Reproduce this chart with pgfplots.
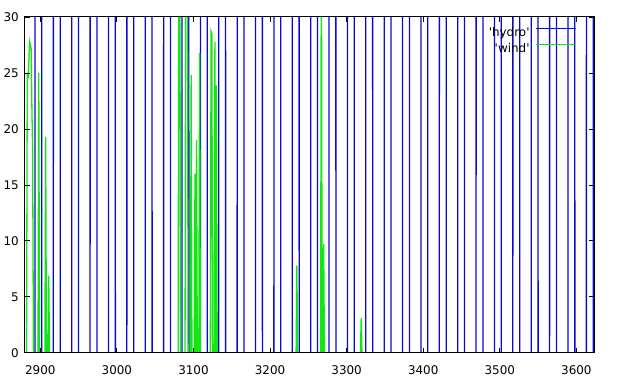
\documentclass[border=0pt]{standalone}
\usepackage{fontspec}
\setmainfont{DejaVu Sans}[Ligatures=TeXOff]
\usepackage{pgfplots}
\pgfplotsset{compat=1.18}
\definecolor{hydroblue}{RGB}{10,10,205}
\definecolor{windgreen}{RGB}{20,230,20}
\begin{document}
\fontsize{12}{14}\selectfont
\begin{tikzpicture}
\useasboundingbox (-25bp,-34bp) rectangle (594.3bp,353bp);
\begin{axis}[
  scale only axis, width=569.3bp, height=336bp,
  axis on top,
  xmin=2880, xmax=3623, ymin=0, ymax=30,
  xtick={2900,3000,...,3600}, ytick={0,5,...,30},
  tick align=inside, tick pos=both, major tick length=5bp,
  tick style={black, line width=0.8bp},
  axis line style={black, line width=1bp},
  /pgf/number format/assume math mode=true,
  /pgf/number format/1000 sep={},
  xticklabel style={yshift=-9bp},
  yticklabel style={xshift=-2bp},
  ticklabel style={font=\fontsize{12}{14}\selectfont},
  legend style={draw=none, fill=none, at={(rel axis cs:1,1)}, anchor=north east,
    xshift=-17bp, yshift=-10bp, inner sep=0pt, row sep=5bp, column sep=6bp,
    nodes={inner sep=0pt}, font=\fontsize{12}{14}\selectfont},
  legend plot pos=right,
  legend cell align=right,
  legend image code/.code={\draw[#1] (0bp,4bp) -- (40bp,4bp);},
]
\addplot[hydroblue, line width=1.3bp] coordinates {
(2880,0)
(2893,0)(2894,500)(2901,500)(2902,0)
(2917,0)(2918,500)(2925,500)(2926,0)
(2941,0)(2942,500)(2949,500)(2950,0)
(2965,0)(2966,500)(2973,500)(2974,0)
(2989,0)(2990,500)(2997,500)(2998,0)
(3013,0)(3014,500)(3021,500)(3022,0)
(3037,0)(3038,500)(3045,500)(3046,0)
(3061,0)(3062,500)(3069,500)(3070,0)
(3085,0)(3086,500)(3093,500)(3094,0)
(3109,0)(3110,500)(3117,500)(3118,0)
(3133,0)(3134,500)(3141,500)(3142,0)
(3157,0)(3158,500)(3165,500)(3166,0)
(3181,0)(3182,500)(3189,500)(3190,0)
(3205,0)(3206,500)(3213,500)(3214,0)
(3229,0)(3230,500)(3237,500)(3238,0)
(3253,0)(3254,500)(3261,500)(3262,0)
(3277,0)(3278,500)(3285,500)(3286,0)
(3301,0)(3302,500)(3309,500)(3310,0)
(3325,0)(3326,500)(3333,500)(3334,0)
(3349,0)(3350,500)(3357,500)(3358,0)
(3373,0)(3374,500)(3381,500)(3382,0)
(3397,0)(3398,500)(3405,500)(3406,0)
(3421,0)(3422,500)(3429,500)(3430,0)
(3445,0)(3446,500)(3453,500)(3454,0)
(3469,0)(3470,500)(3477,500)(3478,0)
(3493,0)(3494,500)(3501,500)(3502,0)
(3517,0)(3518,500)(3525,500)(3526,0)
(3541,0)(3542,500)(3549,500)(3550,0)
(3565,0)(3566,500)(3573,500)(3574,0)
(3589,0)(3590,500)(3597,500)(3598,0)
(3613,0)(3614,500)(3621,500)(3622,0)
(3623,0)
};
\addlegendentry{'hydro'}
\addplot[windgreen, line width=1.3bp] coordinates {
(2880,0)(2882,0)(2883,25)(2884,24.5)(2885,26)(2886,27.8)(2887,27.5)(2888,27.2)(2889,22)(2890,18)(2891,0)
(2897,0)(2898,25)(2899,0)
(2906,0)(2907,19.3)(2908,0)
(2910,0)(2911,6.9)(2912,0)
(3080,0)(3081,45)(3082,50)(3083,0)
(3089,0)(3090,45)(3091,50)(3092,40)(3093,0)
(3096,0)(3097,24.8)(3098,0)
(3101,0)(3102,16)(3103,0)(3104,19)(3105,0)
(3107,0)(3108,26.8)(3109,0)
(3122,0)(3123,28.7)(3124,28.5)(3125,0)
(3127,0)(3128,27.8)(3129,0)(3130,23.9)(3131,0)
(3234,0)(3235,7.8)(3236,0)
(3266,0)(3267,40)(3268,0)(3269,0)(3270,9.7)(3271,0)
(3318,0)(3319,3.1)(3320,0)
(3623,0)
};
\addlegendentry{'wind'}
\end{axis}
\end{tikzpicture}
\end{document}
